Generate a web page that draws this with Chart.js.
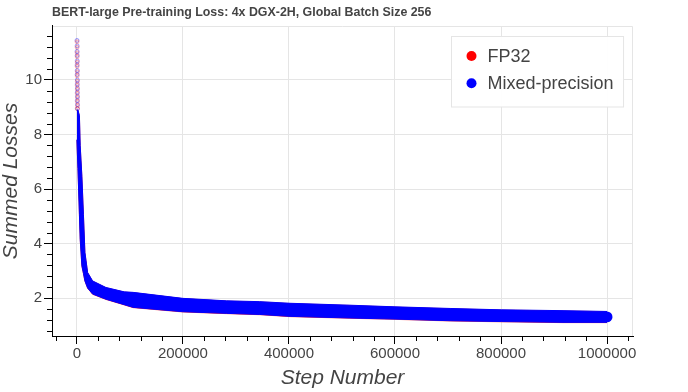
<!DOCTYPE html>
<html>
<head>
<meta charset="utf-8">
<script src="https://cdn.jsdelivr.net/npm/chart.js@4.4.1/dist/chart.umd.min.js"></script>
<style>
html,body{margin:0;padding:0;background:#fff;}
#wrap{width:688px;height:392px;position:relative;}
</style>
</head>
<body>
<div id="wrap"><canvas id="c" width="688" height="392"></canvas></div>
<script>
// ---- text ----
const chartTitle = 'BERT-large Pre-training Loss: 4x DGX-2H, Global Batch Size 256';
const xAxisTitle = 'Step Number';
const yAxisTitle = 'Summed Losses';
const seriesNames = ['FP32', 'Mixed-precision'];
const seriesColors = ['#ff0000', '#0000ff'];

// ---- axis ticks ----
const xTicks = [0, 200000, 400000, 600000, 800000, 1000000];
const yTicks = [2, 4, 6, 8, 10];

// ---- band of the loss curves (upper / lower edge of the noisy point cloud) ----
const steps = [0, 1900, 4700, 6200, 9400, 12300, 15100, 20200, 29600, 54700, 89200,
               106000, 200000, 282000, 345000, 402000, 515000, 600000, 704000, 801000, 917000, 1000000];
const mixedUpper = [8.90, 8.90, 8.70, 7.60, 6.46, 5.07, 3.68, 2.94, 2.63, 2.39, 2.23,
                    2.21, 1.99, 1.90, 1.87, 1.81, 1.74, 1.68, 1.62, 1.57, 1.54, 1.51];
const mixedLower = [7.81, 6.75, 5.07, 4.16, 3.18, 2.91, 2.63, 2.37, 2.15, 1.96, 1.76,
                    1.66, 1.50, 1.44, 1.40, 1.33, 1.27, 1.23, 1.17, 1.14, 1.11, 1.11];
const fp32Upper  = [8.88, 8.88, 8.68, 7.58, 6.44, 5.05, 3.66, 2.93, 2.62, 2.38, 2.22,
                    2.20, 1.98, 1.89, 1.86, 1.80, 1.73, 1.67, 1.61, 1.56, 1.53, 1.50];
const fp32Lower  = [7.80, 6.74, 5.06, 4.15, 3.17, 2.90, 2.62, 2.36, 2.14, 1.95, 1.75,
                    1.65, 1.49, 1.43, 1.39, 1.32, 1.26, 1.22, 1.16, 1.13, 1.10, 1.10];

// ---- sparse early points (first ~1000 steps) ----
const earlySteps = [200, 400, 300, 500, 600, 400, 700, 500, 800, 600, 900, 700, 1000, 800, 1100, 900];
const earlyMixed = [11.45, 11.25, 11.05, 10.90, 10.70, 10.55, 10.35, 10.20, 10.00, 9.85, 9.70, 9.55, 9.40, 9.25, 9.10, 8.95];
const earlyFp32  = [11.40, 11.20, 11.00, 10.85, 10.65, 10.50, 10.30, 10.15, 9.95, 9.80, 9.65, 9.50, 9.35, 9.20, 9.05, 8.95];

const FONT = "'Liberation Sans', Arial, Helvetica, sans-serif";
const pts = (xs, ys) => xs.map((x, i) => ({x: x, y: ys[i]}));

const frameOutline = {
  id: 'frameOutline',
  beforeDatasetsDraw(chart) {
    const {ctx, chartArea: a} = chart;
    ctx.save();
    ctx.strokeStyle = '#e5e5e5';
    ctx.lineWidth = 1;
    ctx.beginPath();
    ctx.moveTo(a.left + 1, a.top + 0.5);
    ctx.lineTo(a.right - 0.5, a.top + 0.5);
    ctx.lineTo(a.right - 0.5, a.bottom);
    ctx.stroke();
    ctx.restore();
  }
};

const minorTicks = {
  id: 'minorTicks',
  afterDraw(chart) {
    const ctx = chart.ctx, xs = chart.scales.x, ys = chart.scales.y, a = chart.chartArea;
    ctx.save();
    ctx.strokeStyle = '#000';
    ctx.lineWidth = 1;
    ctx.beginPath();
    for (let k = -2; k <= 27; k++) {
      const v = k * 40000;
      if (k % 5 === 0 || v < xs.min || v > xs.max) continue;
      const px = Math.round(xs.getPixelForValue(v)) + 0.5;
      ctx.moveTo(px, a.bottom);
      ctx.lineTo(px, a.bottom + 5);
    }
    for (let k = 1; k <= 30; k++) {
      const v = k * 0.4;
      if (k % 5 === 0 || v < ys.min || v > ys.max) continue;
      const py = Math.round(ys.getPixelForValue(v)) + 0.5;
      ctx.moveTo(a.left - 5, py);
      ctx.lineTo(a.left, py);
    }
    ctx.stroke();
    ctx.restore();
  }
};

const endCaps = {
  id: 'endCaps',
  afterDatasetsDraw(chart) {
    // round off the end of the mixed-precision band like the round markers of the original
    const ctx = chart.ctx, xs = chart.scales.x, ys = chart.scales.y;
    const n = steps.length - 1;
    const px = xs.getPixelForValue(steps[n]);
    const yTop = ys.getPixelForValue(mixedUpper[n]);
    const yBot = ys.getPixelForValue(mixedLower[n]);
    const r = (yBot - yTop) / 2;
    ctx.save();
    ctx.beginPath();
    ctx.arc(px, (yTop + yBot) / 2, r, -Math.PI / 2, Math.PI / 2);
    ctx.fillStyle = seriesColors[1];
    ctx.fill();
    ctx.restore();
  }
};

const boxLegend = {
  id: 'boxLegend',
  afterDraw(chart) {
    const {ctx, chartArea: a} = chart;
    ctx.save();
    ctx.font = '18px ' + FONT;
    let tw = 0;
    seriesNames.forEach(n => { tw = Math.max(tw, ctx.measureText(n).width); });
    const w = 10 + 20 + 6 + tw + 10;
    const h = 70.5;
    const left = Math.round(a.right - 10 - w) + 0.5;
    const top = Math.round(a.top + 10) + 0.5;
    ctx.fillStyle = 'rgba(255,255,255,0.95)';
    ctx.fillRect(left, top, w, h);
    ctx.strokeStyle = '#e5e5e5';
    ctx.lineWidth = 1;
    ctx.strokeRect(left, top, w, h);
    const rowY = [top + 19.5, top + 46.8];
    seriesNames.forEach((n, i) => {
      ctx.beginPath();
      ctx.arc(left + 20, rowY[i], 5, 0, Math.PI * 2);
      ctx.fillStyle = seriesColors[i];
      ctx.fill();
      ctx.fillStyle = '#444444';
      ctx.textAlign = 'left';
      ctx.textBaseline = 'middle';
      ctx.fillText(n, left + 36, rowY[i] + 1);
    });
    ctx.restore();
  }
};

new Chart(document.getElementById('c'), {
  type: 'line',
  data: {
    datasets: [
      { label: seriesNames[0] + ' lower', data: pts(steps, fp32Lower), borderColor: 'rgba(255,0,0,0.6)',
        borderWidth: 1, pointRadius: 0, fill: false, order: 2, tension: 0 },
      { label: seriesNames[0], data: pts(steps, fp32Upper), borderColor: 'rgba(255,0,0,0.6)',
        backgroundColor: seriesColors[0], borderWidth: 1, pointRadius: 0, fill: '-1', order: 2, tension: 0 },
      { label: seriesNames[1] + ' lower', data: pts(steps, mixedLower), borderColor: seriesColors[1],
        borderWidth: 1, pointRadius: 0, fill: false, order: 1, tension: 0 },
      { label: seriesNames[1], data: pts(steps, mixedUpper), borderColor: seriesColors[1],
        backgroundColor: seriesColors[1], borderWidth: 1, pointRadius: 0, fill: '-1', order: 1, tension: 0 },
      { type: 'scatter', label: seriesNames[0] + ' early', data: pts(earlySteps, earlyFp32),
        pointRadius: 2, borderWidth: 1, borderColor: 'rgba(255,0,0,0.25)', backgroundColor: 'rgba(255,0,0,0.1)', order: 3 },
      { type: 'scatter', label: seriesNames[1] + ' early', data: pts(earlySteps, earlyMixed),
        pointRadius: 2, borderWidth: 1, borderColor: 'rgba(0,0,255,0.35)', backgroundColor: 'rgba(0,0,255,0.06)', order: 3 }
    ]
  },
  options: {
    responsive: false,
    animation: false,
    devicePixelRatio: 1,
    layout: { padding: { left: 0, right: 55, top: 0, bottom: 0 } },
    plugins: {
      legend: { display: false },
      tooltip: { enabled: false },
      title: {
        display: true, text: chartTitle, align: 'start', fullSize: false, color: '#444444',
        font: { family: FONT, size: 12.4, weight: 'bold' },
        padding: { top: 5, bottom: 6.1 }
      }
    },
    scales: {
      x: {
        type: 'linear', min: -47000, max: 1049000,
        afterBuildTicks: s => { s.ticks = xTicks.map(v => ({ value: v })); },
        afterFit: s => { s.height = 56; },
        ticks: { color: '#444444', font: { family: FONT, size: 15 }, padding: 1, maxRotation: 0, autoSkip: false,
                 callback: v => String(v) },
        grid: { color: '#e5e5e5', lineWidth: 1, tickColor: '#000', tickLength: 8, drawTicks: true },
        border: { color: '#000', width: 1 },
        title: { display: true, text: xAxisTitle, color: '#444444',
                 font: { family: FONT, size: 21, style: 'italic' }, padding: { top: 0, bottom: 1 } }
      },
      y: {
        type: 'linear', min: 0.61, max: 11.98,
        afterBuildTicks: s => { s.ticks = yTicks.map(v => ({ value: v })); },
        afterFit: s => { s.width = 52; },
        ticks: { color: '#444444', font: { family: FONT, size: 15 }, padding: 2, autoSkip: false,
                 callback: v => String(v) },
        grid: { color: '#e5e5e5', lineWidth: 1, tickColor: '#000', tickLength: 8, drawTicks: true },
        border: { color: '#000', width: 1 },
        title: { display: true, text: yAxisTitle, color: '#444444',
                 font: { family: FONT, size: 21, style: 'italic' }, padding: { top: -1, bottom: 0 } }
      }
    }
  },
  plugins: [frameOutline, minorTicks, endCaps, boxLegend]
});
</script>
</body>
</html>
